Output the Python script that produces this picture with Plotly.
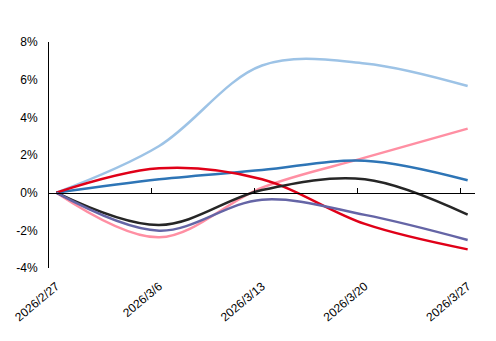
import pandas as pd
import plotly.graph_objects as go

dates = ["2026-02-27", "2026-03-06", "2026-03-13", "2026-03-20", "2026-03-27"]
tick_labels = ["2026/2/27", "2026/3/6", "2026/3/13", "2026/3/20", "2026/3/27"]
y_ticks = [-4, -2, 0, 2, 4, 6, 8]
y_tick_labels = ["-4%", "-2%", "0%", "2%", "4%", "6%", "8%"]

s_lightblue = [0.0, 2.48, 6.75, 6.86, 5.66]
s_pink = [0.0, -2.37, 0.27, 1.86, 3.40]
s_blue = [0.0, 0.71, 1.20, 1.70, 0.66]
s_red = [0.0, 1.29, 0.71, -1.66, -3.01]
s_black = [0.0, -1.72, 0.14, 0.71, -1.17]
s_purple = [0.0, -2.02, -0.37, -1.18, -2.51]

series = [
    (s_lightblue, "#9DC3E6"),
    (s_pink, "#FF8FA3"),
    (s_blue, "#2E75B6"),
    (s_red, "#E00018"),
    (s_black, "#262626"),
    (s_purple, "#6565A6"),
]

d = pd.to_datetime(dates)
x_pts = d + pd.Timedelta(hours=12)

fig = go.Figure()
for vals, col in series:
    fig.add_trace(go.Scatter(
        x=x_pts, y=vals, mode="lines",
        line=dict(color=col, width=2.5, shape="spline", smoothing=1.0),
        showlegend=False, hoverinfo="skip"))

# invisible trace on zero-line axis
fig.add_trace(go.Scatter(x=x_pts, y=[None] * len(dates), xaxis="x2",
                         showlegend=False, hoverinfo="skip"))

xr = [pd.Timestamp("2026-02-27"), pd.Timestamp("2026-03-28")]
font = dict(family="Liberation Sans, Arial, sans-serif", size=12, color="#000")

fig.update_layout(
    width=496, height=341,
    margin=dict(l=47, r=21, t=42, b=73),
    paper_bgcolor="white", plot_bgcolor="white",
    font=font,
    xaxis=dict(range=xr, showgrid=False, zeroline=False, showline=False,
               tickvals=x_pts, ticktext=tick_labels, tickangle=-40,
               ticks="", ticklabelstandoff=8, tickfont=font),
    xaxis2=dict(range=xr, overlaying="x", anchor="free", position=1/3,
                showgrid=False, zeroline=False, showline=True, linecolor="#000",
                linewidth=1, ticks="inside", ticklen=5, tickcolor="#000",
                tickvals=d, showticklabels=False),
    yaxis=dict(range=[-4, 8], tickvals=y_ticks, ticktext=y_tick_labels,
               showgrid=False, zeroline=False,
               showline=True, linecolor="#000", linewidth=1, ticks="",
               ticklabelstandoff=8, tickfont=font),
)

fig.write_html("out.html")
